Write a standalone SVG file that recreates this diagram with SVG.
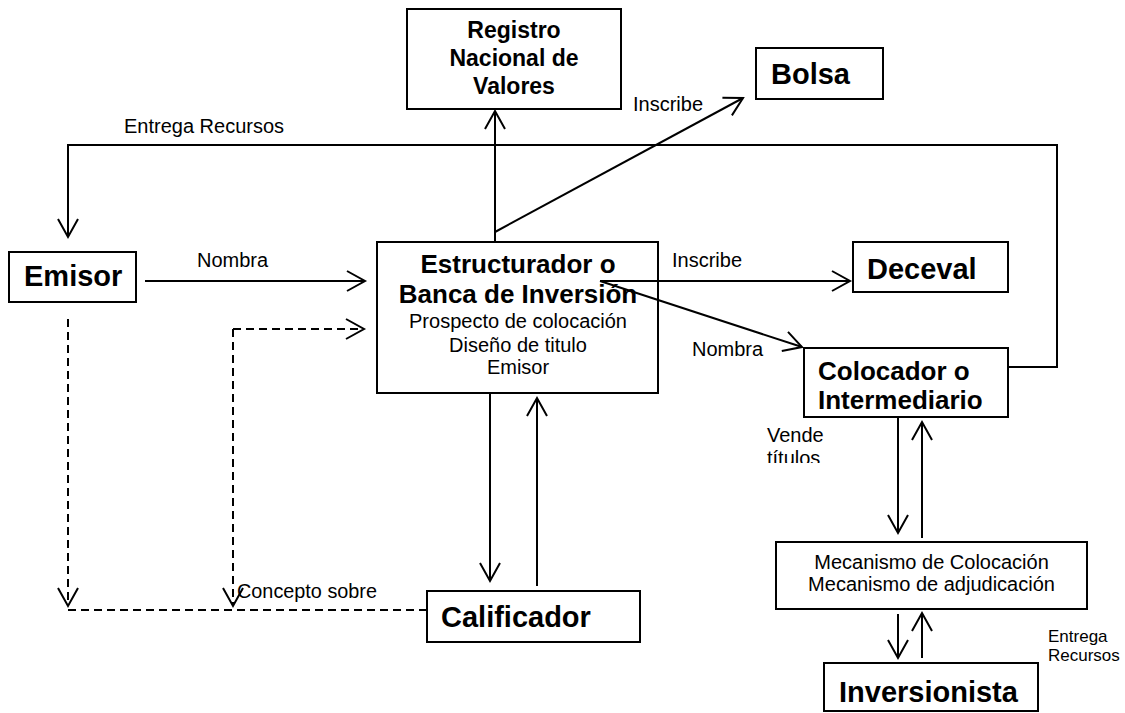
<svg xmlns="http://www.w3.org/2000/svg" width="1125" height="713" viewBox="0 0 1125 713">
<style>
.box{fill:#fff;stroke:#000;stroke-width:2}
.ln{fill:none;stroke:#000;stroke-width:2}
.ds{fill:none;stroke:#000;stroke-width:2;stroke-dasharray:8 5}
text{font-family:"Liberation Sans",Arial,sans-serif;fill:#000}
.b29{font-size:29px;font-weight:bold}
.b26{font-size:26px;font-weight:bold}
.b23{font-size:23px;font-weight:bold}
.r20{font-size:20px}
.r17{font-size:17px}
</style>
<defs>
<marker id="a" markerUnits="userSpaceOnUse" markerWidth="24" markerHeight="24" viewBox="-20 -12 24 24" refX="0" refY="0" orient="auto">
<path d="M-18,-10 L0,0 L-18,10" fill="none" stroke="#000" stroke-width="2"/>
</marker>
<clipPath id="cv"><rect x="740" y="420" width="120" height="43"/></clipPath>
</defs>
<rect width="1125" height="713" fill="#fff"/>

<g id="registro">
<rect class="box" x="407" y="9" width="214" height="100"/>
<text class="b23" x="514" y="38" text-anchor="middle">Registro</text>
<text class="b23" x="514" y="66" text-anchor="middle">Nacional de</text>
<text class="b23" x="514" y="94" text-anchor="middle">Valores</text>
</g>
<g id="bolsa">
<rect class="box" x="756" y="48" width="127" height="51"/>
<text class="b29" x="771" y="84">Bolsa</text>
</g>
<g id="emisor">
<rect class="box" x="9" y="252" width="127" height="50"/>
<text class="b29" x="24" y="286">Emisor</text>
</g>
<g id="estructurador">
<rect class="box" x="377" y="242" width="281" height="151"/>
<text class="b26" x="518" y="273" text-anchor="middle">Estructurador o</text>
<text class="b26" x="518" y="303" text-anchor="middle">Banca de Inversión</text>
<text class="r20" x="518" y="328" text-anchor="middle">Prospecto de colocación</text>
<text class="r20" x="518" y="352" text-anchor="middle">Diseño de titulo</text>
<text class="r20" x="518" y="374" text-anchor="middle">Emisor</text>
</g>
<g id="deceval">
<rect class="box" x="853" y="242" width="155" height="50"/>
<text class="b29" x="867" y="279">Deceval</text>
</g>
<g id="colocador">
<rect class="box" x="804" y="348" width="204" height="69"/>
<text class="b26" x="818" y="380">Colocador o</text>
<text class="b26" x="818" y="409">Intermediario</text>
</g>
<g id="calificador">
<rect class="box" x="427" y="591" width="213" height="51"/>
<text class="b29" x="441" y="627">Calificador</text>
</g>
<g id="mecanismo">
<rect class="box" x="776" y="542" width="311" height="67"/>
<text class="r20" x="931.5" y="569" text-anchor="middle">Mecanismo de Colocación</text>
<text class="r20" x="931.5" y="591" text-anchor="middle">Mecanismo de adjudicación</text>
</g>
<g id="inversionista">
<rect class="box" x="824" y="663" width="214" height="48"/>
<text class="b29" x="839" y="702">Inversionista</text>
</g>

<g id="connectors">
<line class="ln" x1="495" y1="242" x2="495" y2="111" marker-end="url(#a)"/>
<line class="ln" x1="495" y1="232" x2="743" y2="98" marker-end="url(#a)"/>
<line class="ln" x1="145" y1="281" x2="365" y2="281" marker-end="url(#a)"/>
<line class="ln" x1="600" y1="281" x2="850" y2="281" marker-end="url(#a)"/>
<line class="ln" x1="600" y1="281" x2="802" y2="347" marker-end="url(#a)"/>
<polyline class="ln" points="1008,367 1057,367 1057,145 68,145 68,237" marker-end="url(#a)"/>
<line class="ln" x1="490" y1="393" x2="490" y2="581" marker-end="url(#a)"/>
<line class="ln" x1="537" y1="586" x2="537" y2="398" marker-end="url(#a)"/>
<line class="ln" x1="898" y1="417" x2="898" y2="533" marker-end="url(#a)"/>
<line class="ln" x1="922" y1="538" x2="922" y2="422" marker-end="url(#a)"/>
<line class="ln" x1="898" y1="614" x2="898" y2="658" marker-end="url(#a)"/>
<line class="ln" x1="922" y1="658" x2="922" y2="613" marker-end="url(#a)"/>
<line class="ds" x1="68" y1="319" x2="68" y2="606" marker-end="url(#a)"/>
<line class="ds" x1="427" y1="610" x2="68" y2="610"/>
<line class="ds" x1="233" y1="329" x2="233" y2="606" marker-end="url(#a)"/>
<line class="ds" x1="233" y1="329" x2="364" y2="329" marker-end="url(#a)"/>
<text class="r20" x="124" y="133">Entrega Recursos</text>
<text class="r20" x="633" y="111">Inscribe</text>
<text class="r20" x="197" y="267">Nombra</text>
<text class="r20" x="672" y="267">Inscribe</text>
<text class="r20" x="692" y="356">Nombra</text>
<g clip-path="url(#cv)">
<text class="r20" x="767" y="442">Vende</text>
<text class="r20" x="767" y="465">títulos</text>
</g>
<text class="r20" x="237" y="598" textLength="140" lengthAdjust="spacingAndGlyphs">Concepto sobre</text>
<text class="r17" x="1048" y="642">Entrega</text>
<text class="r17" x="1048" y="661">Recursos</text>
</g>
</svg>
